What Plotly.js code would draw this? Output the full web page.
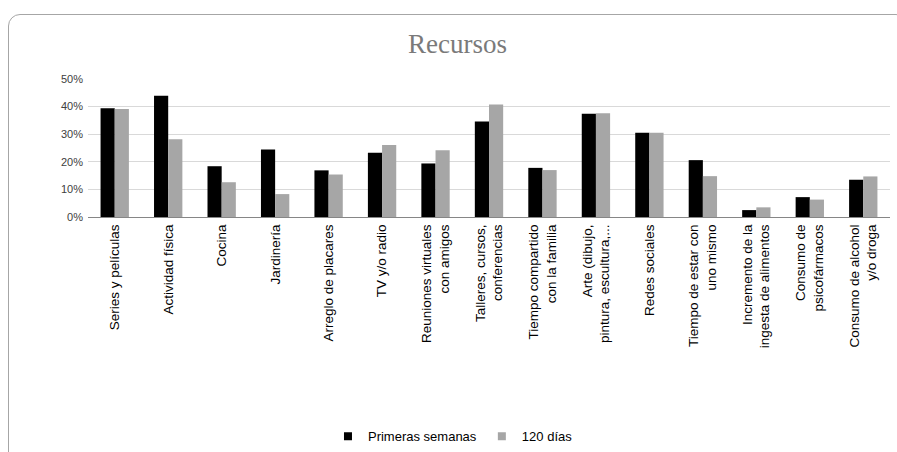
<!DOCTYPE html>
<html>
<head>
<meta charset="utf-8">
<script src="https://cdn.plot.ly/plotly-3.0.1.min.js"></script>
<style>
html, body { margin:0; padding:0; background:#fff; }
#wrap { position:relative; width:897px; height:452px; overflow:hidden; }
#frame { position:absolute; left:8px; top:14px; width:900px; height:460px; border:1.5px solid #a6a6a6; border-radius:12px; box-sizing:border-box; }
#chart { position:absolute; left:0; top:0; width:897px; height:452px; }
</style>
</head>
<body>
<div id="wrap">
<div id="frame"></div>
<div id="chart"></div>
</div>
<script>
const categories = [
  "Series y películas",
  "Actividad física",
  "Cocina",
  "Jardinería",
  "Arreglo de placares",
  "TV y/o radio",
  "Reuniones virtuales<br>con amigos",
  "Talleres, cursos,<br>conferencias",
  "Tiempo compartido<br>con la familia",
  "Arte (dibujo,<br>pintura, escultura,...",
  "Redes sociales",
  "Tiempo de estar con<br>uno mismo",
  "Incremento de la<br>ingesta de alimentos",
  "Consumo de<br>psicofármacos",
  "Consumo de alcohol<br>y/o droga"
];
const primerasSemanas = [0.394, 0.439, 0.184, 0.245, 0.169, 0.233, 0.194, 0.346, 0.178, 0.374, 0.305, 0.206, 0.025, 0.072, 0.135];
const dias120 = [0.391, 0.282, 0.126, 0.083, 0.154, 0.261, 0.242, 0.408, 0.170, 0.376, 0.305, 0.148, 0.035, 0.063, 0.147];
const seriesNames = ["Primeras semanas", "120 días"];
const seriesColors = ['#000000', '#a6a6a6'];

const traces = [
  { type:'bar', name:seriesNames[0], x:categories, y:primerasSemanas, marker:{color:seriesColors[0]}, showlegend:false },
  { type:'bar', name:seriesNames[1], x:categories, y:dias120, marker:{color:seriesColors[1]}, showlegend:false },
  { type:'scatter', mode:'markers', name:seriesNames[0], x:[null], y:[null], marker:{symbol:'square', size:8, color:seriesColors[0]} },
  { type:'scatter', mode:'markers', name:seriesNames[1], x:[null], y:[null], marker:{symbol:'square', size:8, color:seriesColors[1]} }
];

const layout = {
  width:897, height:452,
  paper_bgcolor:'rgba(0,0,0,0)', plot_bgcolor:'rgba(0,0,0,0)',
  margin:{l:88, r:7, t:79, b:235},
  barmode:'group', bargap:0.47, bargroupgap:0,
  title:{text:'Recursos', x:0.51, xanchor:'center', xref:'container', y:0.903, yanchor:'middle', yref:'container',
         font:{family:'Liberation Serif, Times New Roman, serif', size:27, color:'#7a7a7a'}},
  font:{family:'Liberation Sans, Arial, sans-serif', color:'#000'},
  xaxis:{
    tickangle:-90, tickfont:{size:13.5, color:'#000', family:'Liberation Sans, Arial, sans-serif'},
    showline:true, linecolor:'#868686', linewidth:1, ticks:'', showgrid:false,
    ticklabelstandoff:1, automargin:false
  },
  yaxis:{
    range:[0,0.5], dtick:0.1, tickformat:'.0%',
    tickfont:{size:11, color:'#404040', family:'Liberation Sans, Arial, sans-serif'},
    showgrid:true, gridcolor:'#d9d9d9', gridwidth:1, zeroline:false,
    showline:false, ticks:'', ticklabelstandoff:4, automargin:false, fixedrange:true
  },
  showlegend:true,
  legend:{orientation:'h', x:0.505, xref:'container', xanchor:'center', y:0.035, yref:'container', yanchor:'middle',
          font:{size:13, color:'#000', family:'Liberation Sans, Arial, sans-serif'}, traceorder:'normal',
          itemwidth:30}
};

Plotly.newPlot('chart', traces, layout, {displayModeBar:false, staticPlot:true});
</script>
</body>
</html>
